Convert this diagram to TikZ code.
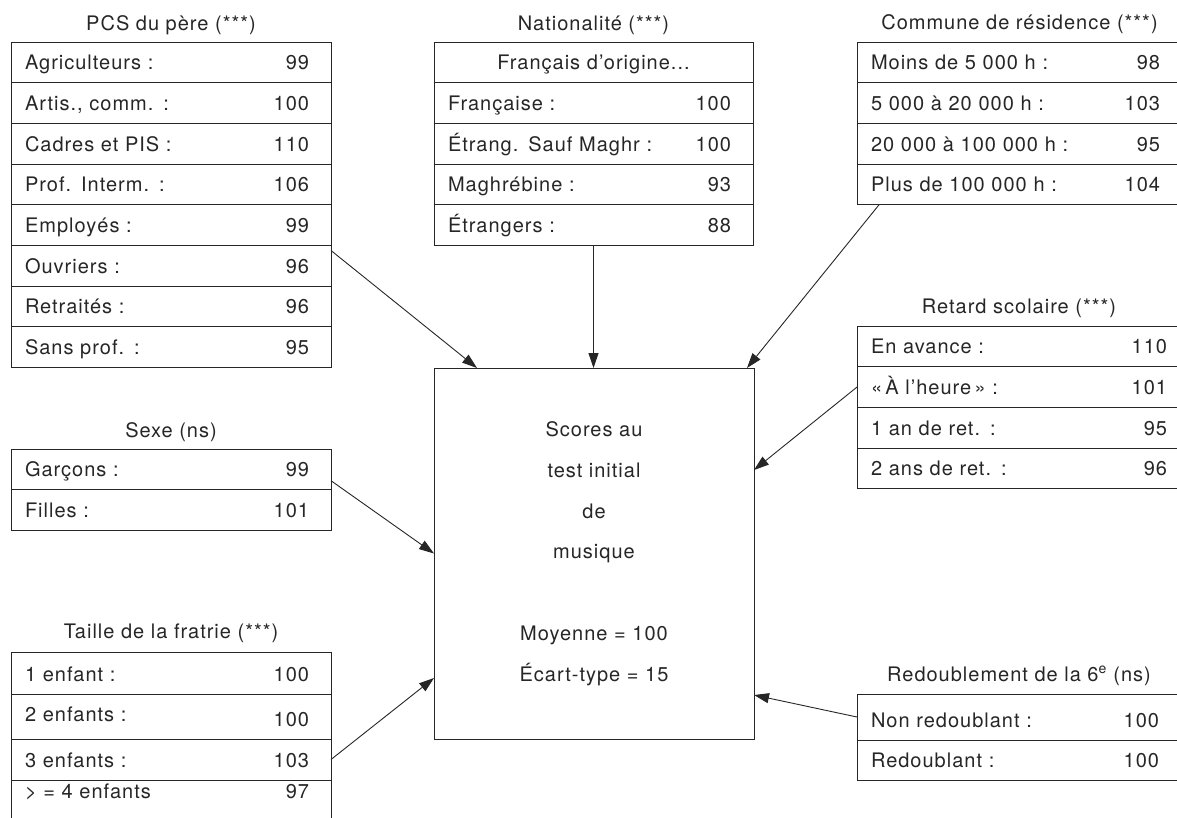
\documentclass[tikz,border=0pt]{standalone}
\usepackage{fontspec}
\setmainfont{TeX Gyre Heros}[LetterSpace=5]
\usetikzlibrary{positioning,arrows.meta}

\tikzset{
  row/.style={draw=black!85, line width=1pt, outer sep=0pt, text width=#1,
    inner xsep=14pt, inner ysep=0pt, text height=27.7pt, text depth=13pt, align=left},
  row/.default=292pt,
  ttl/.style={anchor=base},
  arr/.style={-{Triangle[length=15pt,width=10pt]}, line width=0.9pt, draw=black!85},
}

\begin{document}
\begin{tikzpicture}[x=1pt, y=-1pt, font=\fontsize{20pt}{40.8pt}\selectfont, text=black!85]
  \def\val#1{\hfill#1\hspace*{8pt}}
  \useasboundingbox (0,0) rectangle (1177,817);

  % PCS du pere
  \node[row, anchor=north west] (pcs1) at (11,42) {Agriculteurs :\val{99}};
  \node[row, below=0pt of pcs1] (pcs2) {Artis., comm. :\val{100}};
  \node[row, below=0pt of pcs2] (pcs3) {Cadres et PIS :\val{110}};
  \node[row, below=0pt of pcs3] (pcs4) {Prof. Interm. :\val{106}};
  \node[row, below=0pt of pcs4] (pcs5) {Employés :\val{99}};
  \node[row, below=0pt of pcs5] (pcs6) {Ouvriers :\val{96}};
  \node[row, below=0pt of pcs6] (pcs7) {Retraités :\val{96}};
  \node[row, below=0pt of pcs7] (pcs8) {Sans prof. :\val{95}};
  \node[ttl] (pcsT) at ([yshift=12pt]pcs1.north) {PCS du père (***)};

  % Nationalite
  \node[row=291pt, align=center, anchor=north west] (nat1) at (434,42) {Français d’origine...};
  \node[row=291pt, below=0pt of nat1] (nat2) {Française :\val{100}};
  \node[row=291pt, below=0pt of nat2] (nat3) {Étrang. Sauf Maghr :\val{100}};
  \node[row=291pt, below=0pt of nat3] (nat4) {Maghrébine :\val{93}};
  \node[row=291pt, below=0pt of nat4] (nat5) {Étrangers :\val{88}};
  \node[ttl] (natT) at ([yshift=12pt]nat1.north) {Nationalité (***)};

  % Commune de residence
  \node[row=297pt, anchor=north west] (com1) at (857,42) {Moins de 5 000 h :\val{98}};
  \node[row=297pt, below=0pt of com1] (com2) {5 000 à 20 000 h :\val{103}};
  \node[row=297pt, below=0pt of com2] (com3) {20 000 à 100 000 h :\val{95}};
  \node[row=297pt, below=0pt of com3] (com4) {Plus de 100 000 h :\val{104}};
  \node[ttl] (comT) at ([yshift=13pt]com1.north) {Commune de résidence (***)};

  % Retard scolaire
  \node[row=296pt, anchor=north west] (ret1) at (857,326) {En avance :\hfill 110};
  \node[row=296pt, below=0pt of ret1] (ret2) {«\,À l’heure\,» :\hfill 101};
  \node[row=296pt, below=0pt of ret2] (ret3) {1 an de ret. :\hfill 95};
  \node[row=296pt, below=0pt of ret3] (ret4) {2 ans de ret. :\hfill 96};
  \node[ttl] (retT) at ([yshift=13pt]ret1.north) {Retard scolaire (***)};

  % Sexe
  \node[row, anchor=north west] (sexe1) at (11,449) {Garçons :\val{99}};
  \node[row, below=0pt of sexe1] (sexe2) {Filles :\val{101}};
  \node[ttl] (sexeT) at ([yshift=12pt]sexe1.north) {Sexe (ns)};

  % Taille de la fratrie
  \node[row, text height=29pt, anchor=north west] (taille1) at (11,652) {1 enfant :\val{100}};
  \node[row, text height=32pt, below=0pt of taille1] (taille2) {\raisebox{5pt}{2 enfants :}\val{100}};
  \node[row, text height=28pt, below=0pt of taille2] (taille3) {3 enfants :\val{103}};
  \node[row, text height=18pt, text depth=23pt, below=0pt of taille3] (taille4) {> = 4 enfants\val{97}};
  \node[ttl] (tailleT) at ([yshift=14pt]taille1.north) {Taille de la fratrie (***)};

  % Redoublement
  \node[row=296pt, text height=33pt, anchor=north west] (red1) at (857,694) {Non redoublant :\val{100}};
  \node[row=296pt, text height=27pt, below=0pt of red1] (red2) {Redoublant :\val{100}};
  \node[ttl] (redT) at ([yshift=13pt]red1.north) {Redoublement de la 6\textsuperscript{e} (ns)};

  % scores
  \node[draw=black!85, line width=1pt, outer sep=0pt, minimum width=320pt, minimum height=371pt,
    align=center, anchor=north west] (centre) at (434,368)
    {Scores au\\test initial\\de\\musique\\[40.8pt]Moyenne = 100\\Écart-type = 15};

  \draw[arr] ([yshift=-5pt]pcs6.north east) -- ([xshift=43pt]centre.north west);
  \draw[arr] (nat5.south) -- (nat5.south |- centre.north);
  \draw[arr] ([xshift=22pt]com4.south west) -- ([xshift=-7pt]centre.north east);
  \draw[arr] (ret2.west) -- ([yshift=-102pt]centre.north east);
  \draw[arr] ([yshift=9pt]sexe1.south east) -- (centre.west);
  \draw[arr] (taille3.east) -- ([yshift=61pt]centre.south west);
  \draw[arr] (red1.west) -- ([yshift=44pt]centre.south east);
\end{tikzpicture}
\end{document}
